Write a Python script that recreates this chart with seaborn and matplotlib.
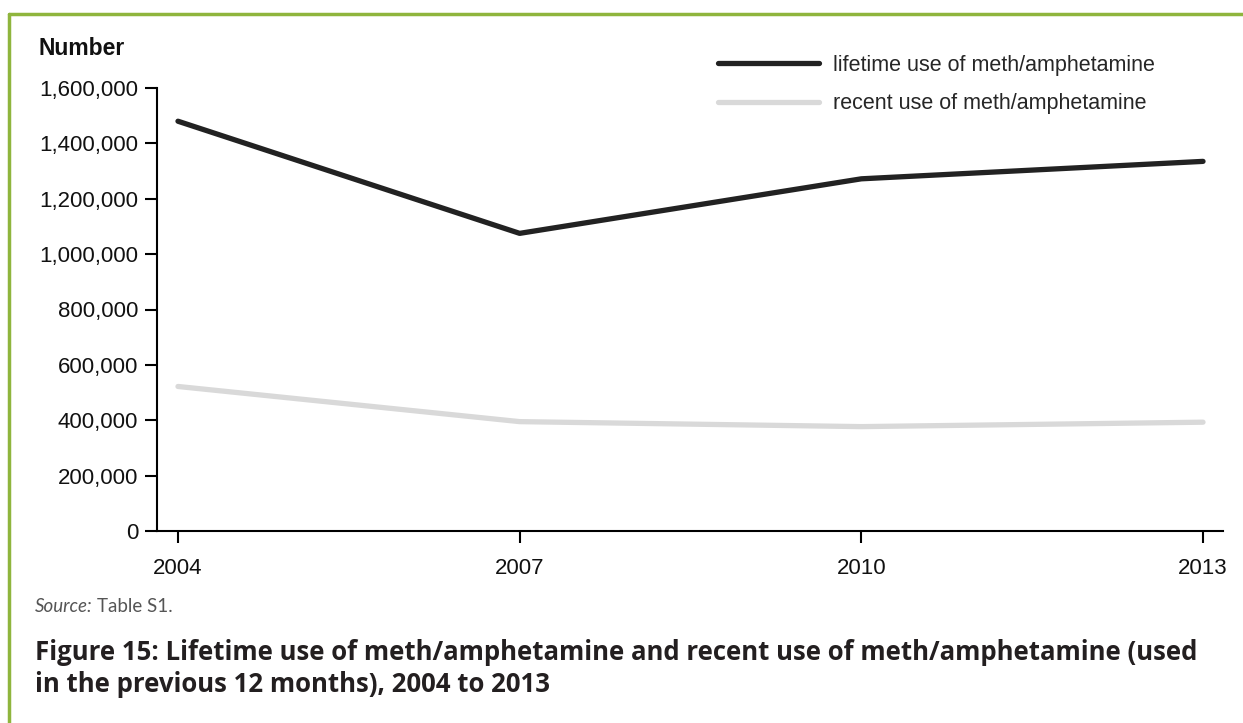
import matplotlib
matplotlib.use("Agg")
import matplotlib.pyplot as plt
import matplotlib.ticker as mticker
from matplotlib.lines import Line2D
import seaborn as sns
import pandas as pd


# Data
years = [2004, 2007, 2010, 2013]
lifetime = [1480000, 1075000, 1272000, 1335000]
recent = [522000, 395000, 377000, 393000]
lifetime_label = "lifetime use of meth/amphetamine"
recent_label = "recent use of meth/amphetamine"
y_ticks = [0, 200000, 400000, 600000, 800000, 1000000, 1200000, 1400000, 1600000]

df = pd.DataFrame({"year": years, "lifetime": lifetime, "recent": recent})


# styling
sns.set_style("ticks")
plt.rcParams["font.family"] = ["Liberation Sans", "DejaVu Sans"]
tick_fs = 16
legend_fs = 15.5
green = "#8fb53d"

fig = plt.figure(figsize=(12.43, 7.23), dpi=100)
ax = fig.add_axes([157 / 1243, 1 - 531 / 723, (1223 - 157) / 1243, (531 - 88) / 723])

sns.lineplot(data=df, x="year", y="lifetime", ax=ax, color="#222222",
             linewidth=3.8, label=lifetime_label)
sns.lineplot(data=df, x="year", y="recent", ax=ax, color="#d9d9d9",
             linewidth=3.8, label=recent_label)

ax.set_xlim(2004 - 21 / 114, 2013 + 20 / 114)
ax.set_ylim(0, 1600000)
ax.set_xticks(years)
ax.set_yticks(y_ticks)
ax.yaxis.set_major_formatter(mticker.StrMethodFormatter("{x:,.0f}"))
ax.set_xlabel("")
ax.set_ylabel("")
for s in ["top", "right"]:
    ax.spines[s].set_visible(False)
for s in ["left", "bottom"]:
    ax.spines[s].set_linewidth(1.5)
    ax.spines[s].set_color("black")
ax.tick_params(axis="both", length=8.5, width=1.5, colors="black",
               labelsize=tick_fs, labelcolor="#111111")
ax.tick_params(axis="x", pad=11)
ax.tick_params(axis="y", pad=5)

ax.legend(loc="upper left", bbox_to_anchor=(718 / 1243, 1 - 55 / 723),
          bbox_transform=fig.transFigure, frameon=False, fontsize=legend_fs,
          handlelength=4.7, handletextpad=0.65, borderpad=0, borderaxespad=0,
          labelspacing=0.8)

# axis title
fig.text(38 / 1243, 1 - 55 / 723, "Number", fontsize=16.5, fontweight="bold",
         ha="left", va="baseline", color="#111111")

# source and caption
fig.text(35 / 1243, 1 - 612 / 723, "Source:", fontsize=13.5, style="italic",
         family="Lato", color="#555555", ha="left", va="baseline")
fig.text(97 / 1243, 1 - 612 / 723, "Table S1.", fontsize=13.5,
         family="Lato", color="#555555", ha="left", va="baseline")
fig.text(35 / 1243, 1 - 660 / 723,
         "Figure 15: Lifetime use of meth/amphetamine and recent use of meth/amphetamine (used",
         fontsize=18.5, fontweight="bold", family="Open Sans", color="#231f20",
         ha="left", va="baseline")
fig.text(35 / 1243, 1 - 692 / 723, "in the previous 12 months), 2004 to 2013",
         fontsize=18.5, fontweight="bold", family="Open Sans", color="#231f20",
         ha="left", va="baseline")

# green frame on top and left
fig.add_artist(Line2D([9 / 1243, 1], [1 - 14 / 723, 1 - 14 / 723],
                      transform=fig.transFigure, color=green, linewidth=2.5))
fig.add_artist(Line2D([9 / 1243, 9 / 1243], [0, 1 - 14 / 723],
                      transform=fig.transFigure, color=green, linewidth=2.5))

plt.savefig("out.png", dpi=100)
plt.close()
